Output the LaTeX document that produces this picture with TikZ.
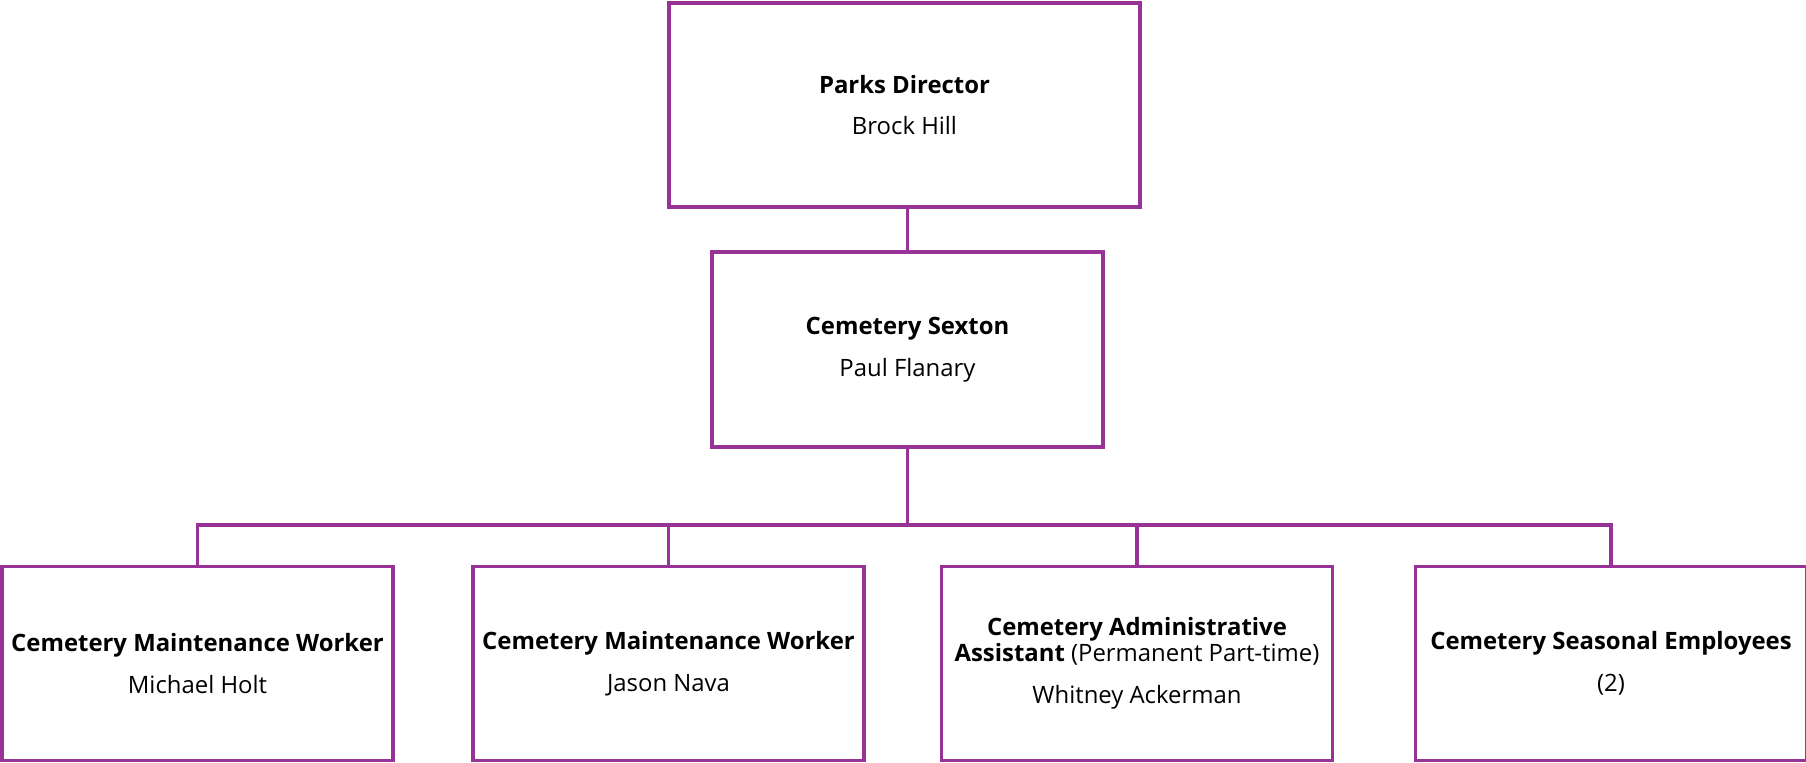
\documentclass[tikz,border=0pt]{standalone}
\usepackage{fontspec}
\setmainfont{Open Sans}
\usetikzlibrary{positioning}
\definecolor{orgpurple}{HTML}{973296}

\begin{document}
\begin{tikzpicture}[
  post/.style={rectangle, draw=orgpurple, line width=0.9pt, fill=white, minimum width=#1, align=center, inner sep=0pt, font=\fontsize{6.8}{9.6}\selectfont},
  post/.default=3.91cm,
  link/.style={draw=orgpurple, line width=0.9pt},
]
  \useasboundingbox (0,0) rectangle (18.06,7.63);

  % Director and sexton
  \node[post=4.71cm, minimum height=2.04cm] (dir) at (9.045, 6.58) {\textbf{Parks Director}\\[2.3pt] Brock Hill};
  \node[post, minimum height=1.95cm] (sexton) at (9.075, 4.135) {\textbf{Cemetery Sexton}\\[2.3pt] Paul Flanary};

  % Staff row
  \node[post, minimum height=1.94cm] (mw1) at (1.975, 0.995) {\textbf{Cemetery Maintenance Worker}\\[2.3pt] Michael Holt};
  \node[post, minimum height=1.94cm] (mw2) at (6.685, 0.995) {\textbf{Cemetery Maintenance Worker}\\[2.3pt] Jason Nava};
  \node[post, minimum height=1.94cm] (admin) at (11.37, 0.995) {\textbf{Cemetery Administrative}\\[-2.3pt]\textbf{Assistant} (Permanent Part-time)\\[2.3pt] Whitney Ackerman};
  \node[post, minimum height=1.94cm] (seasonal) at (16.11, 0.995) {\textbf{Cemetery Seasonal Employees}\\[2.3pt] (2)};

  % Lines
  \coordinate (busy) at (0, 2.38);
  \coordinate (bus) at (sexton.south |- busy);
  \draw[link] (dir.south -| sexton.north) -- (sexton.north);
  \draw[link] (sexton.south) -- (bus);
  \foreach \b in {mw1, mw2, admin, seasonal}
    \draw[link] (bus) -| (\b.north);
\end{tikzpicture}
\end{document}
